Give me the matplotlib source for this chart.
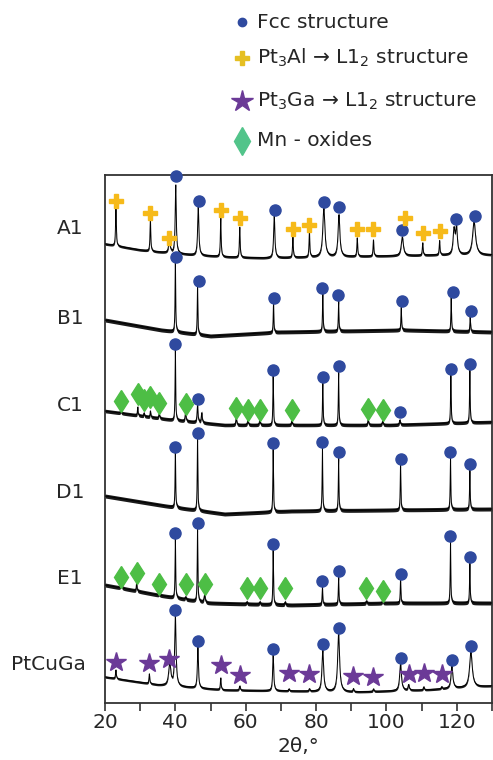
import numpy as np
import matplotlib
matplotlib.use("Agg")
import matplotlib.pyplot as plt
from matplotlib.ticker import MultipleLocator

# ---------------- data (2theta in degrees, intensity in a.u. with offsets) ----------------
sample_names = ["A1", "B1", "C1", "D1", "E1", "PtCuGa"]

# A1
A1_base_x = [20, 25, 30, 35, 45, 55, 65, 80, 100, 115, 130]
A1_base_y = [459, 456, 453, 451, 448, 446, 445, 446, 447, 448, 448]
A1_peak_x = [23.1, 32.9, 38.3, 40.1, 46.5, 52.9, 58.3, 68.1, 73.4, 78.1, 82.2, 86.5, 91.7, 96.3, 104.5, 110.3, 115.1, 119.2, 119.9, 124.9]
A1_peak_top = [495, 483, 463, 518, 496, 485, 476, 488, 466, 471, 495, 488, 465, 463, 466, 460, 462, 472, 474, 481]
A1_peak_w = [0.25, 0.25, 0.5, 0.35, 0.4, 0.25, 0.25, 0.4, 0.25, 0.25, 0.7, 0.6, 0.25, 0.25, 0.7, 0.25, 0.25, 0.6, 0.6, 1.0]
A1_noise = 1.3

# B1
B1_base_x = [20, 36, 50, 70, 105, 130]
B1_base_y = [383, 373, 367, 371, 373, 371]
B1_peak_x = [40.0, 46.3, 67.9, 81.9, 86.4, 104.2, 118.4, 123.8]
B1_peak_top = [441, 416, 400, 410, 402, 396, 405, 386]
B1_peak_w = [0.2] * 8
B1_noise = 2.0

# C1
C1_base_x = [20, 39, 54, 73, 101, 130]
C1_base_y = [292, 283, 278, 278, 278, 281]
C1_peak_x = [24.5, 29.3, 31.1, 32.9, 35.4, 40.0, 42.9, 46.3, 47.5, 57.3, 60.6, 64.0, 67.8, 73.1, 81.9, 86.4, 94.8, 98.9, 103.8, 118.3, 123.7]
C1_peak_top = [292, 296, 290, 292, 289, 353, 291, 298, 290, 285, 283, 283, 327, 282, 320, 331, 283, 282, 283, 328, 333]
C1_peak_w = [0.3, 0.2, 0.2, 0.2, 0.3, 0.2, 0.3, 0.3, 0.3, 0.3, 0.3, 0.3, 0.2, 0.3, 0.2, 0.2, 0.3, 0.3, 0.3, 0.2, 0.2]
C1_noise = 1.8

# D1
D1_base_x = [20, 39, 54, 73, 101, 130]
D1_base_y = [207, 196, 189, 192, 193, 194]
D1_peak_x = [40.0, 46.3, 67.8, 81.8, 86.4, 104.0, 118.2, 123.7]
D1_peak_top = [251, 264, 254, 255, 245, 238, 245, 233]
D1_peak_w = [0.2] * 8
D1_noise = 2.0

# E1
E1_base_x = [20, 35, 49, 73, 101, 130]
E1_base_y = [118, 108, 100, 98, 100, 100]
E1_peak_x = [24.6, 29.0, 35.4, 40.0, 42.9, 46.3, 48.3, 60.3, 64.0, 67.8, 71.2, 81.8, 86.4, 94.3, 98.9, 104.0, 118.2, 123.7]
E1_peak_top = [120, 122, 109, 164, 106, 174, 108, 101, 101, 153, 101, 116, 126, 102, 102, 123, 161, 140]
E1_peak_w = [0.3, 0.2, 0.3, 0.2, 0.3, 0.2, 0.4, 0.3, 0.3, 0.2, 0.3, 0.2, 0.2, 0.3, 0.3, 0.2, 0.2, 0.2]
E1_noise = 2.0

# PtCuGa
G_base_x = [20, 35, 54, 92, 111, 130]
G_base_y = [26, 18, 13, 11, 13, 17]
G_peak_x = [23.1, 32.6, 38.4, 40.0, 46.4, 52.9, 58.3, 67.8, 72.3, 78.1, 81.9, 86.4, 90.6, 96.3, 104.0, 106.3, 110.6, 115.7, 118.6, 124.0]
G_peak_top = [33, 29, 40, 86, 56, 25, 17, 48, 14, 14, 53, 69, 14, 14, 39, 18, 16, 16, 37, 51]
G_peak_w = [0.25, 0.25, 0.7, 0.45, 0.35, 0.25, 0.3, 0.35, 0.3, 0.3, 0.55, 0.65, 0.3, 0.3, 0.6, 0.4, 0.3, 0.3, 0.6, 0.9]
G_noise = 1.2

# phase markers (x, y)
fcc_x = [40.3, 46.6, 68.3, 82.3, 86.6, 104.3, 119.7, 125.1,
         40.3, 46.6, 68.0, 81.7, 86.3, 104.3, 118.9, 124.0,
         40.0, 46.3, 67.8, 81.9, 86.4, 103.8, 118.3, 123.7,
         40.0, 46.3, 67.8, 81.8, 86.4, 104.0, 118.2, 123.7,
         40.0, 46.3, 67.8, 81.8, 86.4, 104.0, 118.2, 123.7,
         40.0, 46.4, 67.8, 81.9, 86.4, 104.0, 118.6, 124.0]
fcc_y = [527, 502, 493, 501, 496, 473, 484, 487,
         446, 422, 405, 415, 408, 402, 411, 392,
         359, 304, 333, 326, 337, 291, 334, 339,
         256, 270, 260, 261, 251, 244, 251, 239,
         170, 180, 159, 122, 132, 129, 167, 146,
         93, 62, 54, 59, 75, 45, 43, 57]

pt3al_x = [23.1, 32.9, 38.3, 52.9, 58.3, 73.4, 78.1, 91.7, 96.3, 105.4, 110.3, 115.1]
pt3al_y = [502, 490, 465, 493, 485, 474, 478, 474, 474, 485, 470, 472]

pt3ga_x = [23.1, 32.6, 38.3, 53.1, 58.3, 72.3, 78.1, 90.6, 96.3, 106.3, 110.6, 115.7]
pt3ga_y = [41, 40, 44, 38, 28, 30, 29, 27, 26, 29, 30, 29]

mnox_x = [24.5, 29.3, 31.1, 32.9, 35.4, 42.9, 57.3, 60.6, 64.0, 73.1, 94.8, 98.9,
          24.6, 29.0, 35.4, 42.9, 48.3, 60.3, 64.0, 71.2, 94.3, 98.9]
mnox_y = [302, 309, 303, 306, 300, 299, 295, 293, 293, 293, 294, 293,
          126, 130, 119, 119, 119, 115, 115, 115, 115, 112]

label_y = [475, 385, 298, 211, 125, 38]

legend_labels = ["Fcc structure",
                 "Pt$_3$Al \u2192 L1$_2$ structure",
                 "Pt$_3$Ga \u2192 L1$_2$ structure",
                 "Mn - oxides"]

x_ticks = [20, 40, 60, 80, 100, 120]

# ---------------- style ----------------
C_FCC = "#2F4A9F"
C_AL = "#F6BA1A"
C_GA = "#6B3A97"
C_MN = "#4DBE45"
TXT = "#262626"
FS = 14.5

plt.rcParams["font.family"] = ["DejaVu Sans"]
plt.rcParams["mathtext.fontset"] = "dejavusans"

W, H = 493, 760
fig = plt.figure(figsize=(W / 100, H / 100), dpi=100)
ax = fig.add_axes([105 / W, 1 - 703 / H, 387 / W, 528 / H])

grid = np.linspace(20, 130, 5000)


def make_trace(bx, by, px, ptop, pw):
    base = np.interp(grid, bx, by)
    y = base.copy()
    for x0, top, w in zip(px, ptop, pw):
        h = top - np.interp(x0, bx, by)
        y += h / (1 + ((grid - x0) / (w / 2)) ** 2)
    return y


traces = [
    (A1_base_x, A1_base_y, A1_peak_x, A1_peak_top, A1_peak_w, A1_noise),
    (B1_base_x, B1_base_y, B1_peak_x, B1_peak_top, B1_peak_w, B1_noise),
    (C1_base_x, C1_base_y, C1_peak_x, C1_peak_top, C1_peak_w, C1_noise),
    (D1_base_x, D1_base_y, D1_peak_x, D1_peak_top, D1_peak_w, D1_noise),
    (E1_base_x, E1_base_y, E1_peak_x, E1_peak_top, E1_peak_w, E1_noise),
    (G_base_x, G_base_y, G_peak_x, G_peak_top, G_peak_w, G_noise),
]

for bx, by, px, ptop, pw, nz in traces:
    y = make_trace(bx, by, px, ptop, pw)
    ax.fill_between(grid, y - nz, y + nz, color="#1a1a1a", lw=0, zorder=2)
    ax.plot(grid, y, color="black", lw=0.7, zorder=3)

ax.plot(fcc_x, fcc_y, ls="none", marker="o", ms=8, color=C_FCC, mec=C_FCC, zorder=5, clip_on=False)
ax.plot(pt3al_x, pt3al_y, ls="none", marker="P", ms=9.5, color=C_AL, mec=C_AL, zorder=5, clip_on=False)
ax.plot(pt3ga_x, pt3ga_y, ls="none", marker="*", ms=14.5, color=C_GA, mec=C_GA, zorder=5, clip_on=False)
ax.plot(mnox_x, mnox_y, ls="none", marker="d", ms=11.5, color=C_MN, mec=C_MN, zorder=5, clip_on=False)

ax.set_xlim(20, 130)
ax.set_ylim(0, 528)
ax.set_xticks(x_ticks)
ax.xaxis.set_minor_locator(MultipleLocator(10))
ax.set_yticks([])
ax.tick_params(axis="x", which="both", direction="out", length=6, width=1.2, colors="#333333",
               labelsize=FS, labelcolor=TXT, pad=1)
for sp in ax.spines.values():
    sp.set_linewidth(1.3)
    sp.set_color("#333333")
ax.set_xlabel("2\u03b8,\u00b0", fontsize=FS, color=TXT, labelpad=4)

# sample labels
for name, yl in zip(sample_names, label_y):
    ax.text(-0.09 if name != "PtCuGa" else -0.145, yl, name, transform=ax.get_yaxis_transform(),
            ha="center", va="center", fontsize=FS, color=TXT)

# legend (drawn in figure pixel coordinates)
lax = fig.add_axes([0, 0, 1, 1])
lax.set_xlim(0, W)
lax.set_ylim(H, 0)
lax.axis("off")
leg_y = [22, 58, 101, 141]
leg_styles = [("o", 6, C_FCC), ("P", 10, "#E5BF22"), ("*", 16, C_GA), ("d", 14, "#52C48A")]
for (mk, ms, col), ly, lab in zip(leg_styles, leg_y, legend_labels):
    lax.plot([242], [ly], ls="none", marker=mk, ms=ms, color=col, mec=col)
    lax.text(257, ly, lab, ha="left", va="center", fontsize=FS, color=TXT)

fig.savefig("out.png", dpi=100)
